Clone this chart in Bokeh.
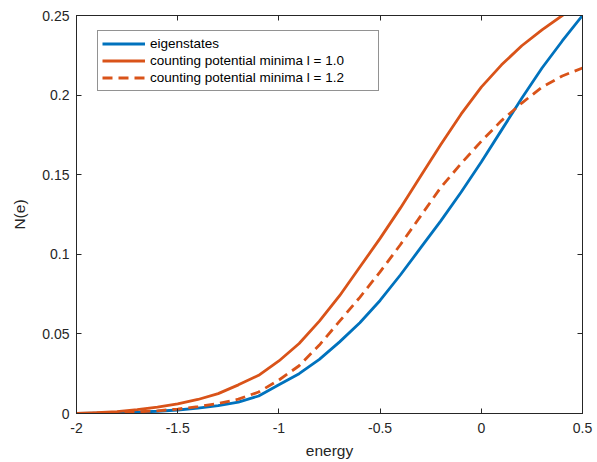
from bokeh.plotting import figure
from bokeh.models import LinearAxis, Legend, LegendItem, FixedTicker, Range1d, CustomLabelingPolicy
from bokeh.embed import file_html
from bokeh.resources import INLINE

energy = [-2.0, -1.9, -1.8, -1.7, -1.6, -1.5, -1.4, -1.3, -1.2, -1.1, -1.0, -0.9, -0.8,
          -0.7, -0.6, -0.5, -0.4, -0.3, -0.2, -0.1, 0.0, 0.1, 0.2, 0.3, 0.4, 0.5]
eigenstates = [0.0, 0.0002, 0.0004, 0.0008, 0.0014, 0.0022, 0.0034, 0.005, 0.0072, 0.011,
               0.018, 0.025, 0.034, 0.045, 0.057, 0.071, 0.087, 0.104, 0.121, 0.139,
               0.158, 0.178, 0.198, 0.217, 0.234, 0.25]
minima_10 = [0.0, 0.0005, 0.0012, 0.0024, 0.004, 0.006, 0.0088, 0.0125, 0.018, 0.024,
             0.033, 0.044, 0.058, 0.074, 0.092, 0.11, 0.129, 0.149, 0.169, 0.188,
             0.205, 0.219, 0.231, 0.241, 0.25, 0.258]
minima_12 = [0.0, 0.0002, 0.0005, 0.001, 0.0017, 0.0028, 0.0043, 0.0063, 0.009, 0.0135,
             0.021, 0.030, 0.043, 0.058, 0.073, 0.089, 0.106, 0.124, 0.142, 0.157,
             0.171, 0.184, 0.195, 0.205, 0.212, 0.217]

x_ticks = [-2, -1.5, -1, -0.5, 0, 0.5]
x_tick_labels = ["-2", "-1.5", "-1", "-0.5", "0", "0.5"]
y_ticks = [0, 0.05, 0.1, 0.15, 0.2, 0.25]
y_tick_labels = ["0", "0.05", "0.1", "0.15", "0.2", "0.25"]
series_names = ["eigenstates", "counting potential minima l = 1.0",
                "counting potential minima l = 1.2"]

BLUE = "#0072BD"
ORANGE = "#D95319"
AX = "#262626"
FONT = "Liberation Sans"

p = figure(width=597, height=462, output_backend="svg", toolbar_location=None,
           x_range=Range1d(-2, 0.5), y_range=Range1d(0, 0.25),
           min_border_left=76, min_border_right=15, min_border_top=15, min_border_bottom=49)
p.xgrid.visible = False
p.ygrid.visible = False
p.outline_line_color = AX
p.outline_line_width = 1
p.background_fill_color = "white"
p.border_fill_color = "white"

r1 = p.line(energy, eigenstates, line_color=BLUE, line_width=2.8)
r2 = p.line(energy, minima_10, line_color=ORANGE, line_width=2.8)
r3 = p.line(energy, minima_12, line_color=ORANGE, line_width=2.8, line_dash="10 6")

hide_all = CustomLabelingPolicy(code="for (const i of [...indices]) { indices.unset(i) } return indices")

def style_axis(ax, labels, ticks, show_labels=True):
    ax.ticker = FixedTicker(ticks=ticks)
    ax.major_label_overrides = {t: l for t, l in zip(ticks, labels)}
    ax.major_tick_in = 5
    ax.major_tick_out = 0
    ax.minor_tick_in = 0
    ax.minor_tick_out = 0
    ax.axis_line_color = AX
    ax.major_tick_line_color = AX
    ax.major_label_text_color = AX
    ax.major_label_text_font = FONT
    ax.major_label_text_font_size = "14px"
    ax.axis_label_text_font = FONT
    ax.axis_label_text_font_size = "15.5px"
    ax.axis_label_text_font_style = "normal"
    ax.axis_label_text_color = AX
    if not show_labels:
        ax.major_label_policy = hide_all
        ax.major_label_text_font_size = "1px"
        ax.major_label_standoff = 0
        ax.axis_label_standoff = 0

xa = p.xaxis[0]
style_axis(xa, x_tick_labels, x_ticks)
xa.axis_label = "energy"
xa.major_label_standoff = 9
xa.axis_label_standoff = 6

ya = p.yaxis[0]
style_axis(ya, y_tick_labels, y_ticks)
ya.axis_label = "N(e)"
ya.major_label_standoff = 7
ya.axis_label_standoff = 11

top = LinearAxis()
style_axis(top, x_tick_labels, x_ticks, show_labels=False)
p.add_layout(top, "above")
right = LinearAxis()
style_axis(right, y_tick_labels, y_ticks, show_labels=False)
p.add_layout(right, "right")

legend = Legend(items=[LegendItem(label=series_names[0], renderers=[r1]),
                       LegendItem(label=series_names[1], renderers=[r2]),
                       LegendItem(label=series_names[2], renderers=[r3])],
                location=(21, 322))
legend.label_text_font = FONT
legend.label_text_font_size = "13.5px"
legend.label_text_color = "black"
legend.glyph_width = 43
legend.glyph_height = 17
legend.label_height = 17
legend.label_width = 224
legend.label_standoff = 5
legend.spacing = 0
legend.padding = 4
legend.margin = 0
legend.border_line_color = AX
legend.border_line_width = 1
legend.background_fill_alpha = 1
p.add_layout(legend, "center")

open("out.html", "w").write(file_html(p, INLINE))
